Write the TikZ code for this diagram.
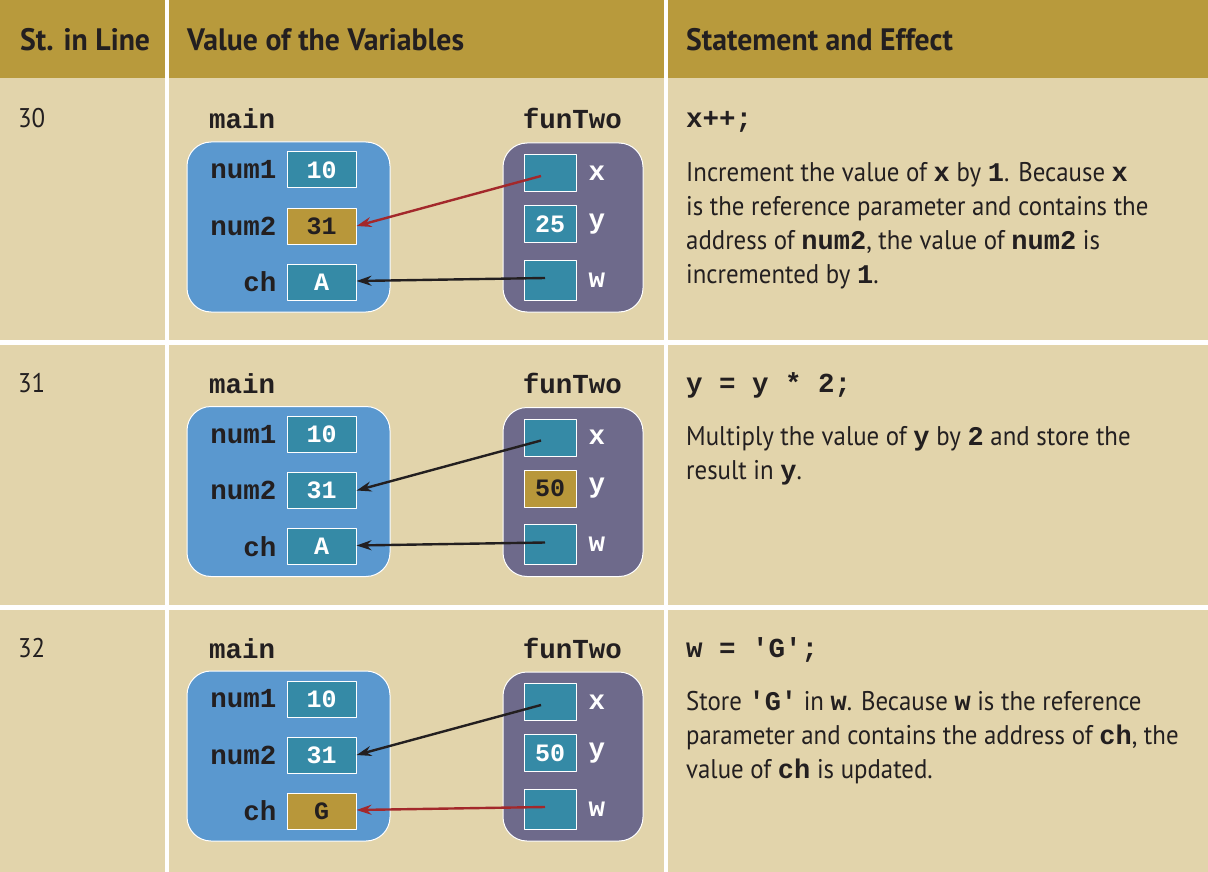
\documentclass[tikz,border=0pt]{standalone}
\usepackage{fontspec}
\setmainfont{PT Sans}[FakeStretch=0.92]
\newfontfamily\headfont{PT Sans}[FakeStretch=0.96]
\setmonofont{Liberation Mono}
\usetikzlibrary{positioning,arrows.meta}

\definecolor{hdgold}{HTML}{B89A3C}
\definecolor{paper}{HTML}{E2D4AB}
\definecolor{mainblue}{HTML}{5A98CF}
\definecolor{funpurple}{HTML}{6E6A8B}
\definecolor{cellteal}{HTML}{358AA6}
\definecolor{cellgold}{HTML}{B8973A}
\definecolor{arrred}{HTML}{A3282B}
\definecolor{ink}{HTML}{231F20}

\newcommand{\cd}[1]{{\ttfamily\bfseries #1}}

\begin{document}
\begin{tikzpicture}[x=1pt, y=-1pt, >={Stealth[length=15pt,width=10pt]}, line join=round,
  mono/.style={font=\fontsize{27.5}{30}\selectfont\ttfamily\bfseries, text=ink, inner sep=0pt},
  stackframe/.style={draw=white, line width=1pt, rounded corners=24pt},
  cell/.style={draw=white, line width=1pt, fill=cellteal, minimum width=69pt, minimum height=36pt,
    inner sep=0pt, font=\fontsize{25}{28}\selectfont\ttfamily\bfseries, text=white},
  hot/.style={cell, fill=cellgold, text=ink},
  pcell/.style={cell, minimum width=52pt, minimum height=37pt},
  phot/.style={pcell, fill=cellgold, text=ink},
  varname/.style={mono, left=10pt of #1},
  parname/.style={mono, text=white, right=12pt of #1},
  link/.style={->, line width=2.4pt, draw=#1},
  colhead/.style={font=\fontsize{31}{34}\selectfont\headfont\bfseries, text=ink, anchor=base west, inner sep=0pt},
  effect/.style={font=\fontsize{27}{34}\selectfont, text=ink, anchor=north west, align=left, inner sep=0pt}]

  \useasboundingbox (0,0) rectangle (1208,872);

  % background, header band and white rules
  \fill[paper] (0,0) rectangle (1208,872);
  \fill[hdgold] (0,0) rectangle (1208,78);
  \fill[white] (165,0) rectangle (169,872);
  \fill[white] (664,0) rectangle (668,872);
  \fill[white] (0,340) rectangle (1208,345);
  \fill[white] (0,605) rectangle (1208,610);

  % column heads
  \node[colhead] (hline) at (20,51) {St. in Line};
  \node[colhead] (hvars) at (187,51) {Value of the Variables};
  \node[colhead] (heff) at (686,51) {Statement and Effect};

  % one row per statement: line / num2 style / y value / y style / ch value / ch style / arrow colours
  \foreach \i/\ln/\ns/\yv/\ys/\cv/\cs/\xa/\wa in
      {0/30/hot/25/pcell/A/cell/arrred/ink,
       1/31/cell/50/phot/A/cell/ink/ink,
       2/32/cell/50/pcell/G/hot/ink/arrred}{
  \begin{scope}[shift={(0,\i*264.5)}]
    \node[font=\fontsize{27}{30}\selectfont, text=ink, anchor=base west, inner sep=0pt] (ln-\i) at (18,128) {\ln};

    % stack frames
    \node[mono, anchor=base west] (mainlbl-\i) at (209,129) {main};
    \node[mono, anchor=base east] (funlbl-\i) at (622,129) {funTwo};
    \draw[stackframe, fill=mainblue] (187,142) rectangle (390,312);
    \draw[stackframe, fill=funpurple] (503,143) rectangle (643,312);

    % main's variables
    \node[cell] (n1-\i) at (321.5,170) {10};
    \node[\ns] (n2-\i) at (321.5,226) {31};
    \node[\cs] (ch-\i) at (321.5,282) {\cv};
    \node[varname=n1-\i] (n1lbl-\i) {num1};
    \node[varname=n2-\i] (n2lbl-\i) {num2};
    \node[varname=ch-\i] (chlbl-\i) {ch};

    % funTwo's parameters
    \node[pcell] (x-\i) at (550,173) {};
    \node[\ys] (y-\i) at (550,224) {\yv};
    \node[pcell, minimum height=40pt] (w-\i) at (550,280) {};
    \node[parname=x-\i] (xlbl-\i) {x};
    \node[parname=y-\i] (ylbl-\i) {y};
    \node[parname=w-\i] (wlbl-\i) {w};

    % reference parameters point back into main
    \draw[link=\xa] ([xshift=-9pt,yshift=-3pt]x-\i.center) -- (n2-\i.east);
    \draw[link=\wa] ([xshift=-5pt,yshift=2pt]w-\i.center) -- ([yshift=1pt]ch-\i.east);
  \end{scope}
  }

  % statements and their effect
  \node[mono, anchor=base west] (st-0) at (686,128) {x++;};
  \node[effect] (ef-0) at (686,162) {Increment the value of \cd{x} by \cd{1}. Because \cd{x}\\
    is the reference parameter and contains the\\
    address of \cd{num2}, the value of \cd{num2} is\\
    incremented by \cd{1}.};

  \node[mono, anchor=base west] (st-1) at (686,392) {y = y * 2;};
  \node[effect] (ef-1) at (686,426) {Multiply the value of \cd{y} by \cd{2} and store the\\
    result in \cd{y}.};

  \node[mono, anchor=base west] (st-2) at (686,657) {w = 'G';};
  \node[effect] (ef-2) at (686,691) {Store \cd{'G'} in \cd{w}. Because \cd{w} is the reference\\
    parameter and contains the address of \cd{ch}, the\\
    value of \cd{ch} is updated.};
\end{tikzpicture}
\end{document}
